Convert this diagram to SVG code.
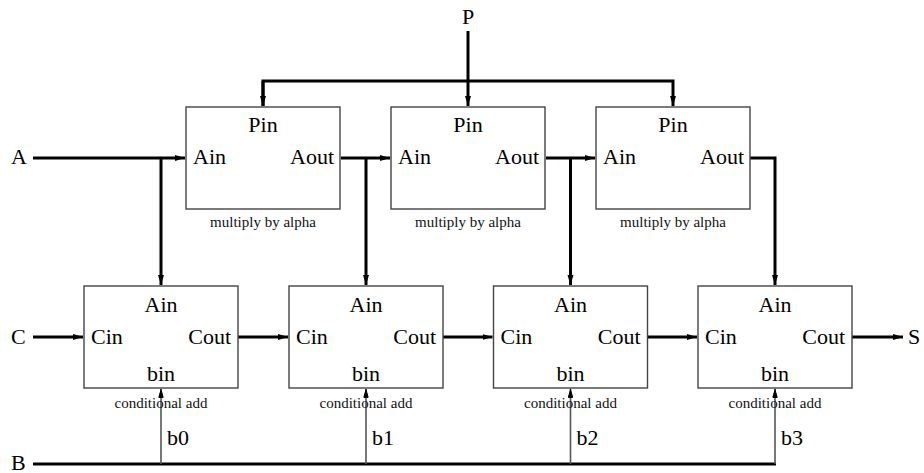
<svg xmlns="http://www.w3.org/2000/svg" width="924" height="473" viewBox="0 0 924 473">
  <style>
    .box { fill: #fff; stroke: #444; stroke-width: 1.4; }
    .lbl { font-family: "Liberation Serif", "Times New Roman", serif; font-size: 22px; fill: #000; }
    .cap { font-family: "Liberation Serif", "Times New Roman", serif; font-size: 15px; fill: #111; }
    .mid { text-anchor: middle; }
    .end { text-anchor: end; }
    .wire { fill: none; stroke: #000; stroke-width: 3; }
    .bit { fill: none; stroke: #555; stroke-width: 1.6; }
  </style>
  <defs>
    <marker id="arr" markerUnits="userSpaceOnUse" markerWidth="11" markerHeight="8" refX="10" refY="4" orient="auto">
      <path d="M0,1 L10,4 L0,7 Z" fill="#000"/>
    </marker>
    <marker id="arrs" markerUnits="userSpaceOnUse" markerWidth="10" markerHeight="7" refX="9" refY="3.5" orient="auto">
      <path d="M0,1 L9,3.5 L0,6 Z" fill="#000"/>
    </marker>
  </defs>

  <rect width="924" height="473" fill="#fff"/>

  <!-- connectors -->
  <g id="connectors">
    <!-- P bus -->
    <path class="wire" d="M468,31 V106" marker-end="url(#arr)"/>
    <path class="wire" d="M263,106 V81 H673 V106" marker-end="url(#arr)"/>
    <path class="wire" d="M263,81 V106" marker-end="url(#arr)"/>
    <!-- A chain -->
    <path class="wire" d="M33,158 H185" marker-end="url(#arr)"/>
    <path class="wire" d="M161,158 V285" marker-end="url(#arr)"/>
    <path class="wire" d="M341,158 H390" marker-end="url(#arr)"/>
    <path class="wire" d="M366,158 V285" marker-end="url(#arr)"/>
    <path class="wire" d="M546,158 H595" marker-end="url(#arr)"/>
    <path class="wire" d="M570.5,158 V285" marker-end="url(#arr)"/>
    <path class="wire" d="M750,158 H775 V285" marker-end="url(#arr)"/>
    <!-- C chain -->
    <path class="wire" d="M33,337 H83" marker-end="url(#arr)"/>
    <path class="wire" d="M238,337 H288" marker-end="url(#arr)"/>
    <path class="wire" d="M443,337 H492.5" marker-end="url(#arr)"/>
    <path class="wire" d="M647.5,337 H697" marker-end="url(#arr)"/>
    <path class="wire" d="M852,337 H903" marker-end="url(#arr)"/>
    <!-- B bus -->
    <path class="wire" d="M33,464 H776"/>
    <path class="bit" d="M161,464 V389" marker-end="url(#arrs)"/>
    <path class="bit" d="M366,464 V389" marker-end="url(#arrs)"/>
    <path class="bit" d="M570.5,464 V389" marker-end="url(#arrs)"/>
    <path class="bit" d="M775,464 V389" marker-end="url(#arrs)"/>
  </g>

  <!-- outside labels -->
  <g id="io-labels">
    <text class="lbl mid" x="468" y="24">P</text>
    <text class="lbl" x="11" y="164">A</text>
    <text class="lbl" x="11" y="344">C</text>
    <text class="lbl" x="11" y="470">B</text>
    <text class="lbl" x="908" y="344">S</text>
    <text class="lbl" x="167" y="445">b0</text>
    <text class="lbl" x="372" y="445">b1</text>
    <text class="lbl" x="576.5" y="445">b2</text>
    <text class="lbl" x="781" y="445">b3</text>
  </g>

  <!-- multiply-by-alpha blocks -->
  <g id="mul1">
    <rect class="box" x="186" y="107" width="154" height="102"/>
    <text class="lbl mid" x="263" y="132">Pin</text>
    <text class="lbl" x="193" y="164">Ain</text>
    <text class="lbl end" x="334" y="164">Aout</text>
    <text class="cap mid" x="263" y="227">multiply by alpha</text>
  </g>
  <g id="mul2">
    <rect class="box" x="391" y="107" width="154" height="102"/>
    <text class="lbl mid" x="468" y="132">Pin</text>
    <text class="lbl" x="398" y="164">Ain</text>
    <text class="lbl end" x="539" y="164">Aout</text>
    <text class="cap mid" x="468" y="227">multiply by alpha</text>
  </g>
  <g id="mul3">
    <rect class="box" x="596" y="107" width="154" height="102"/>
    <text class="lbl mid" x="673" y="132">Pin</text>
    <text class="lbl" x="603" y="164">Ain</text>
    <text class="lbl end" x="744" y="164">Aout</text>
    <text class="cap mid" x="673" y="227">multiply by alpha</text>
  </g>

  <!-- conditional-add blocks -->
  <g id="add0">
    <rect class="box" x="84" y="286" width="154" height="102"/>
    <text class="lbl mid" x="161" y="312">Ain</text>
    <text class="lbl" x="91" y="344">Cin</text>
    <text class="lbl end" x="231" y="344">Cout</text>
    <text class="lbl mid" x="161" y="381">bin</text>
    <text class="cap mid" x="161" y="408">conditional add</text>
  </g>
  <g id="add1">
    <rect class="box" x="289" y="286" width="154" height="102"/>
    <text class="lbl mid" x="366" y="312">Ain</text>
    <text class="lbl" x="296" y="344">Cin</text>
    <text class="lbl end" x="436" y="344">Cout</text>
    <text class="lbl mid" x="366" y="381">bin</text>
    <text class="cap mid" x="366" y="408">conditional add</text>
  </g>
  <g id="add2">
    <rect class="box" x="493.5" y="286" width="154" height="102"/>
    <text class="lbl mid" x="570.5" y="312">Ain</text>
    <text class="lbl" x="500.5" y="344">Cin</text>
    <text class="lbl end" x="640.5" y="344">Cout</text>
    <text class="lbl mid" x="570.5" y="381">bin</text>
    <text class="cap mid" x="570.5" y="408">conditional add</text>
  </g>
  <g id="add3">
    <rect class="box" x="698" y="286" width="154" height="102"/>
    <text class="lbl mid" x="775" y="312">Ain</text>
    <text class="lbl" x="705" y="344">Cin</text>
    <text class="lbl end" x="845" y="344">Cout</text>
    <text class="lbl mid" x="775" y="381">bin</text>
    <text class="cap mid" x="775" y="408">conditional add</text>
  </g>

  <!-- b-line arrowheads drawn above the captions -->
  <g id="bit-heads">
    <path d="M161,388 L158.5,397 L163.5,397 Z" fill="#000"/>
    <path d="M366,388 L363.5,397 L368.5,397 Z" fill="#000"/>
    <path d="M570.5,388 L568,397 L573,397 Z" fill="#000"/>
    <path d="M775,388 L772.5,397 L777.5,397 Z" fill="#000"/>
  </g>
</svg>
